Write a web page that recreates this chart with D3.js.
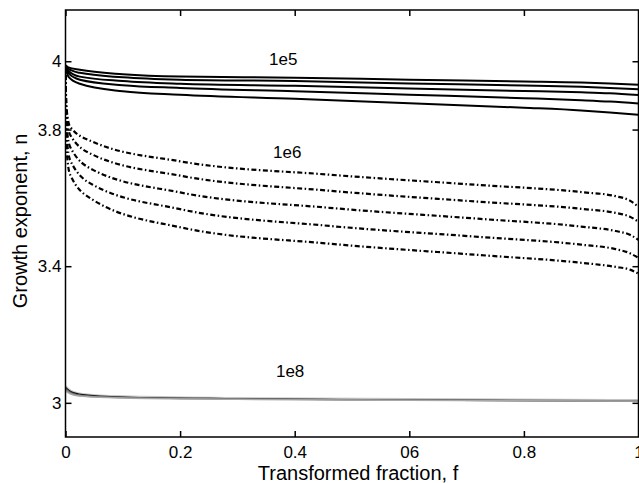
<!DOCTYPE html>
<html>
<head>
<meta charset="utf-8">
<script src="https://cdn.jsdelivr.net/npm/d3@7"></script>
<style>
  html, body { margin: 0; padding: 0; background: #fff; }
  svg { display: block; }
  text { font-family: "Liberation Sans", Arial, Helvetica, sans-serif; fill: #000; }
</style>
</head>
<body>
<svg id="chart" width="639" height="483"></svg>
<script>
// Axis ticks and labels
const xTicks = [0, 0.2, 0.4, 0.6, 0.8, 1];
const xTickLabels = ["0", "0.2", "0.4", "06", "0.8", "1"];
const yTicks = [3, 3.4, 3.8, 4];
const yTickLabels = ["3", "3.4", "3.8", "4"];

// Nucleation-rate families: transformed fraction f vs growth exponent n
const f1e5 = [0, 0.005, 0.025, 0.1, 0.2, 0.4, 0.6, 0.8, 0.9, 0.95, 1];
const n1e5 = [
  [3.988, 3.982, 3.975, 3.962, 3.955, 3.952, 3.946, 3.941, 3.938, 3.935, 3.931],
  [3.987, 3.978, 3.966, 3.953, 3.946, 3.942, 3.935, 3.929, 3.925, 3.922, 3.918],
  [3.985, 3.972, 3.955, 3.942, 3.934, 3.928, 3.920, 3.913, 3.909, 3.906, 3.901],
  [3.983, 3.965, 3.946, 3.930, 3.922, 3.912, 3.902, 3.892, 3.886, 3.882, 3.876],
  [3.980, 3.955, 3.934, 3.912, 3.902, 3.890, 3.877, 3.864, 3.856, 3.850, 3.843]
];

const f1e6 = [0, 0.002, 0.008, 0.048, 0.2, 0.46, 0.72, 0.9, 0.96, 0.985, 1];
const n1e6 = [
  [3.96, 3.86, 3.808, 3.764, 3.707, 3.668, 3.638, 3.617, 3.605, 3.592, 3.574],
  [3.96, 3.84, 3.785, 3.726, 3.665, 3.621, 3.589, 3.568, 3.556, 3.545, 3.530],
  [3.96, 3.81, 3.750, 3.682, 3.616, 3.571, 3.539, 3.516, 3.503, 3.492, 3.477],
  [3.96, 3.78, 3.711, 3.638, 3.567, 3.518, 3.486, 3.463, 3.450, 3.438, 3.424],
  [3.96, 3.74, 3.668, 3.594, 3.514, 3.466, 3.433, 3.410, 3.398, 3.390, 3.378]
];

const f1e8 = [0, 0.01, 0.03, 0.1, 0.3, 0.6, 1];
const n1e8 = [
  [3.050, 3.036, 3.027, 3.020, 3.015, 3.012, 3.009],
  [3.045, 3.032, 3.024, 3.017, 3.012, 3.008, 3.004],
  [3.042, 3.030, 3.022, 3.016, 3.012, 3.009, 3.006],
  [3.038, 3.027, 3.020, 3.015, 3.011, 3.008, 3.005],
  [3.034, 3.025, 3.019, 3.014, 3.010, 3.007, 3.005]
];
const grey1e8 = ["#c4c4c4", "#000000", "#555555", "#8a8a8a", "#a8a8a8"];

const curveLabels = [
  { text: "1e5", f: 0.380, n: 3.990 },
  { text: "1e6", f: 0.387, n: 3.716 },
  { text: "1e8", f: 0.392, n: 3.075 }
];

const svg = d3.select("#chart");
const plotLeft = 65.5, plotRight = 638.5, plotTop = 10, plotBottom = 437;

const x = d3.scaleLinear().domain([0, 1]).range([plotLeft, plotRight]);
const y = d3.scaleLinear().domain([2.9, 4.15]).range([plotBottom, plotTop]);

const line = d3.line()
  .x(d => x(d[0]))
  .y(d => y(d[1]))
  .curve(d3.curveMonotoneX);

const plot = svg.append("g");
plot.append("clipPath").attr("id", "clip")
  .append("rect").attr("x", plotLeft).attr("y", plotTop)
  .attr("width", plotRight - plotLeft).attr("height", plotBottom - plotTop);
const curves = plot.append("g").attr("clip-path", "url(#clip)");

// 1e8 family: thin grey lines
n1e8.forEach((vals, i) => {
  curves.append("path")
    .datum(f1e8.map((f, j) => [f, vals[j]]))
    .attr("d", line)
    .attr("fill", "none")
    .attr("stroke", grey1e8[i])
    .attr("stroke-width", 1.3);
});

// 1e6 family: dash-dot lines
n1e6.forEach(vals => {
  curves.append("path")
    .datum(f1e6.map((f, j) => [f, vals[j]]))
    .attr("d", line)
    .attr("fill", "none")
    .attr("stroke", "#000")
    .attr("stroke-width", 2.2)
    .attr("stroke-dasharray", "5,2.5,1.5,2.5");
});

// 1e5 family: solid lines
n1e5.forEach(vals => {
  curves.append("path")
    .datum(f1e5.map((f, j) => [f, vals[j]]))
    .attr("d", line)
    .attr("fill", "none")
    .attr("stroke", "#000")
    .attr("stroke-width", 2);
});

// Curve family labels
plot.selectAll("text.curve-label")
  .data(curveLabels)
  .join("text")
  .attr("class", "curve-label")
  .attr("x", d => x(d.f))
  .attr("y", d => y(d.n))
  .attr("text-anchor", "middle")
  .attr("font-size", 17)
  .text(d => d.text);

// Axes with inward ticks
const xAxis = d3.axisBottom(x)
  .tickValues(xTicks)
  .tickFormat((d, i) => xTickLabels[i])
  .tickSizeInner(-6).tickSizeOuter(0).tickPadding(9);
const yAxis = d3.axisLeft(y)
  .tickValues(yTicks)
  .tickFormat((d, i) => yTickLabels[i])
  .tickSizeInner(-6).tickSizeOuter(0).tickPadding(4);
const xAxisTop = d3.axisTop(x).tickValues(xTicks).tickFormat("").tickSizeInner(-6).tickSizeOuter(0);
const yAxisRight = d3.axisRight(y).tickValues(yTicks).tickFormat("").tickSizeInner(-6).tickSizeOuter(0);

function styleAxis(g) {
  g.select(".domain").remove();
  g.selectAll("line").attr("stroke", "#000").attr("stroke-width", 1.5);
  g.selectAll("text").attr("font-size", 17)
    .attr("font-family", "'Liberation Sans', Arial, Helvetica, sans-serif");
}

svg.append("g").attr("transform", `translate(0,${plotBottom})`).call(xAxis).call(styleAxis);
svg.append("g").attr("transform", `translate(${plotLeft},0)`).call(yAxis).call(styleAxis);
svg.append("g").attr("transform", `translate(0,${plotTop})`).call(xAxisTop).call(styleAxis);
svg.append("g").attr("transform", `translate(${plotRight},0)`).call(yAxisRight).call(styleAxis);

// Axes box
svg.append("rect")
  .attr("x", plotLeft).attr("y", plotTop)
  .attr("width", plotRight - plotLeft).attr("height", plotBottom - plotTop)
  .attr("fill", "none").attr("stroke", "#000").attr("stroke-width", 1.5);

// Axis titles
svg.append("text")
  .attr("x", 358).attr("y", 480)
  .attr("text-anchor", "middle")
  .attr("font-size", 20)
  .text("Transformed fraction, f");

svg.append("text")
  .attr("transform", "translate(27,221) rotate(-90)")
  .attr("text-anchor", "middle")
  .attr("font-size", 20)
  .text("Growth exponent, n");
</script>
</body>
</html>
